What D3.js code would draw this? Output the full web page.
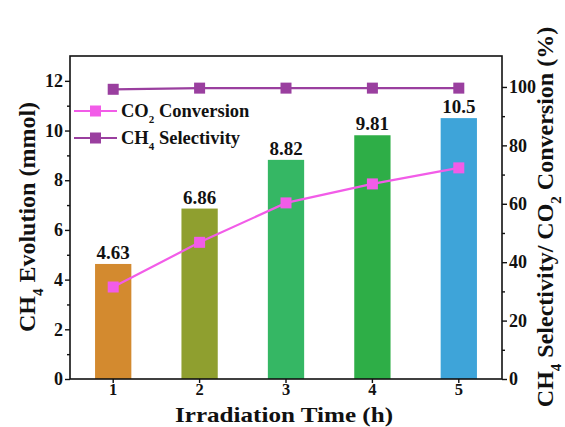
<!DOCTYPE html>
<html>
<head>
<meta charset="utf-8">
<script src="https://cdn.jsdelivr.net/npm/d3@7"></script>
<style>
  body { margin: 0; background: #fff; }
  svg text { font-family: "Liberation Serif", "Times New Roman", serif; font-weight: bold; fill: #111; }
</style>
</head>
<body>
<svg id="chart" width="565" height="427"></svg>
<script>
// Irradiation time categories and measured series
const hours = [1, 2, 3, 4, 5];
const ch4Evolution = [4.63, 6.86, 8.82, 9.81, 10.5];
const co2Conversion = [31.5, 46.8, 60.3, 66.8, 72.3];
const ch4Selectivity = [99.2, 99.6, 99.6, 99.6, 99.6];
const barColors = ["#d38a2f", "#8f9f2f", "#35b764", "#2eae47", "#3ea4d9"];
const leftTicks = [0, 2, 4, 6, 8, 10, 12];
const rightTicks = [0, 20, 40, 60, 80, 100];

const svg = d3.select("#chart");
const m = { left: 70, right: 502, top: 56, bottom: 379 };

const x = d3.scaleBand().domain(hours).range([m.left, m.right]).paddingInner(0.58).paddingOuter(0.29);
const yL = d3.scaleLinear().domain([0, 13]).range([m.bottom, m.top]);
const yR = d3.scaleLinear().domain([0, 110.6]).range([m.bottom, m.top]);

// bars
svg.append("g").selectAll("rect").data(hours).join("rect")
  .attr("x", d => x(d))
  .attr("width", x.bandwidth())
  .attr("y", (d, i) => yL(ch4Evolution[i]))
  .attr("height", (d, i) => yL(0) - yL(ch4Evolution[i]))
  .attr("fill", (d, i) => barColors[i]);

// value labels over bars
svg.append("g").selectAll("text").data(hours).join("text")
  .attr("x", d => x(d) + x.bandwidth() / 2)
  .attr("y", (d, i) => yL(ch4Evolution[i]) - 5)
  .attr("text-anchor", "middle")
  .attr("font-size", 19)
  .text((d, i) => ch4Evolution[i]);

const cx = d => x(d) + x.bandwidth() / 2;

function drawSeries(values, color) {
  const line = d3.line().x((d, i) => cx(hours[i])).y(d => yR(d));
  svg.append("path").datum(values)
    .attr("d", line).attr("fill", "none")
    .attr("stroke", color).attr("stroke-width", 2.2);
  svg.append("g").selectAll("rect").data(values).join("rect")
    .attr("x", (d, i) => cx(hours[i]) - 5.5)
    .attr("y", d => yR(d) - 5.5)
    .attr("width", 11).attr("height", 11)
    .attr("fill", color);
}
drawSeries(co2Conversion, "#f25ce8");
drawSeries(ch4Selectivity, "#9a3f9f");

// frame
svg.append("rect")
  .attr("x", m.left).attr("y", m.top)
  .attr("width", m.right - m.left).attr("height", m.bottom - m.top)
  .attr("fill", "none").attr("stroke", "#111").attr("stroke-width", 1.6);

// left axis
const gL = svg.append("g").attr("transform", `translate(${m.left},0)`)
  .call(d3.axisLeft(yL).tickValues(leftTicks).tickSize(5).tickPadding(2));
gL.append("g").call(d3.axisLeft(yL).tickValues(d3.range(1, 13, 2)).tickSize(3).tickFormat(""));
// right axis
const gR = svg.append("g").attr("transform", `translate(${m.right},0)`)
  .call(d3.axisRight(yR).tickValues(rightTicks).tickSize(5).tickPadding(2));
gR.append("g").call(d3.axisRight(yR).tickValues(d3.range(10, 110, 20)).tickSize(3).tickFormat(""));
// bottom axis
const gB = svg.append("g").attr("transform", `translate(0,${m.bottom})`)
  .call(d3.axisBottom(x).tickSize(4).tickPadding(0));

[gL, gR, gB].forEach(g => {
  g.selectAll(".domain").remove();
  g.selectAll("line").attr("stroke", "#111").attr("stroke-width", 1.4);
  g.selectAll("text").attr("font-size", 18).attr("font-family", "Liberation Serif, serif").attr("font-weight", "bold").attr("fill", "#111");
});
gB.selectAll("text").attr("font-size", 16.5);

// axis titles
svg.append("text")
  .attr("transform", "translate(35,217) rotate(-90)")
  .attr("text-anchor", "middle").attr("font-size", 24)
  .html('CH<tspan baseline-shift="sub" font-size="15">4</tspan> Evolution (mmol)');

svg.append("text")
  .attr("transform", "translate(553,217) rotate(-90)")
  .attr("text-anchor", "middle").attr("font-size", 24)
  .html('CH<tspan baseline-shift="sub" font-size="15">4</tspan> Selectivity/ CO<tspan baseline-shift="sub" font-size="15">2</tspan> Conversion (%)');

svg.append("text")
  .attr("x", 284).attr("y", 421.5)
  .attr("text-anchor", "middle").attr("font-size", 21.5)
  .attr("textLength", 218).attr("lengthAdjust", "spacingAndGlyphs")
  .text("Irradiation Time (h)");

// legend
const legend = [
  { label: ["CO", "2", " Conversion"], color: "#f25ce8", y: 111 },
  { label: ["CH", "4", " Selectivity"], color: "#9a3f9f", y: 138 }
];
legend.forEach(l => {
  const g = svg.append("g");
  g.append("line").attr("x1", 74).attr("x2", 117).attr("y1", l.y).attr("y2", l.y)
    .attr("stroke", l.color).attr("stroke-width", 2.2);
  g.append("rect").attr("x", 90).attr("y", l.y - 5.5).attr("width", 11).attr("height", 11).attr("fill", l.color);
  g.append("text").attr("x", 121).attr("y", l.y + 6).attr("font-size", 18.5)
    .html(`${l.label[0]}<tspan baseline-shift="sub" font-size="11">${l.label[1]}</tspan>${l.label[2]}`);
});
</script>
</body>
</html>
